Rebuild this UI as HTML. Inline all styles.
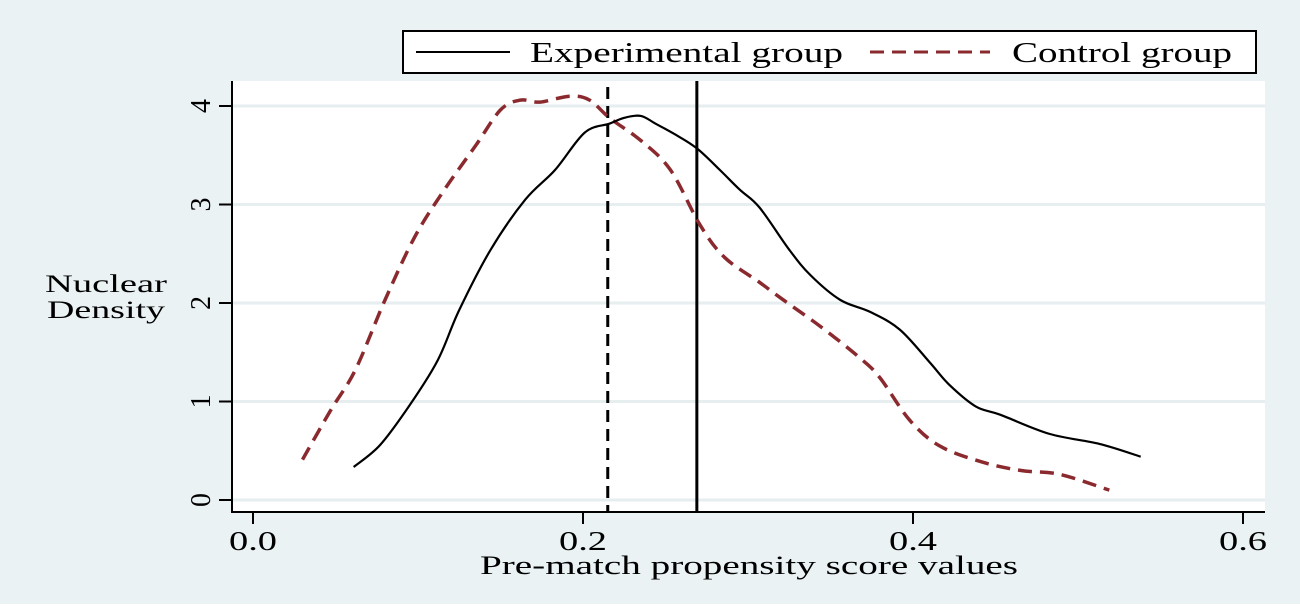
<!DOCTYPE html>
<html><head><meta charset="utf-8"><style>
html,body{margin:0;padding:0;background:#fff}
svg{display:block;font-family:"Liberation Serif",serif}
</style></head><body>
<svg width="1300" height="606">
<rect x="0" y="0" width="1300" height="604" fill="#eaf2f3"/>
<rect x="232" y="81" width="1033" height="431" fill="#fff"/>
<g id="grid"></g>
<g id="axes"></g>
<g id="series"></g>
<g>
<rect x="403" y="31" width="853" height="42" fill="#fff" stroke="#000" stroke-width="2"/>
<line x1="416" y1="52" x2="510" y2="52" stroke="#000" stroke-width="2"/>
<text x="530" y="62" font-size="28" textLength="313" lengthAdjust="spacingAndGlyphs">Experimental group</text>
<line x1="870" y1="52" x2="990" y2="52" stroke="#8b2a2e" stroke-width="3" stroke-dasharray="14,8"/>
<text x="1012" y="62" font-size="28" textLength="220" lengthAdjust="spacingAndGlyphs">Control group</text>
</g>
<text x="45" y="292" font-size="25" textLength="122" lengthAdjust="spacingAndGlyphs">Nuclear</text>
<text x="47" y="318" font-size="25" textLength="118" lengthAdjust="spacingAndGlyphs">Density</text>
<text x="480" y="574" font-size="26" textLength="538" lengthAdjust="spacingAndGlyphs">Pre-match propensity score values</text>
</svg>
<script>
const xTicks=[0,0.2,0.4,0.6];
const xTickLabels=["0.0","0.2","0.4","0.6"];
const yTicks=[0,1,2,3,4];
const expX=[0.061,0.077,0.095,0.112,0.125,0.144,0.165,0.183,0.201,0.216,0.225,0.235,0.244,0.256,0.269,0.283,0.295,0.307,0.325,0.338,0.356,0.374,0.392,0.410,0.422,0.438,0.453,0.483,0.513,0.538];
const expY=[0.335,0.558,0.964,1.42,1.93,2.54,3.05,3.35,3.73,3.82,3.88,3.90,3.82,3.71,3.57,3.35,3.15,2.97,2.54,2.28,2.03,1.91,1.73,1.40,1.17,0.95,0.865,0.67,0.57,0.44];
const ctlX=[0.030,0.047,0.062,0.080,0.098,0.116,0.135,0.150,0.162,0.174,0.192,0.204,0.216,0.235,0.253,0.271,0.286,0.307,0.319,0.344,0.368,0.380,0.398,0.416,0.441,0.465,0.489,0.519];
const ctlY=[0.41,0.91,1.32,2.03,2.67,3.15,3.60,3.96,4.06,4.04,4.10,4.06,3.88,3.65,3.35,2.79,2.46,2.21,2.06,1.76,1.44,1.24,0.81,0.55,0.39,0.30,0.26,0.10];
const meanLines=[0.215,0.269];
const NS="http://www.w3.org/2000/svg";
const sx=v=>253+v*1650;
const sy=v=>500-v*98.5;
function mk(tag,attrs,parent){const e=document.createElementNS(NS,tag);for(const k in attrs)e.setAttribute(k,attrs[k]);document.getElementById(parent).appendChild(e);return e;}
yTicks.forEach(t=>{
  const g=mk('line',{x1:232,x2:1265,y1:sy(t),y2:sy(t),stroke:'#e6eef0','stroke-width':3},'grid');
  
  
  const tk=mk('line',{x1:219,x2:232,y1:sy(t),y2:sy(t),stroke:'#000','stroke-width':2},'axes');
  
  
  const tl=mk('text',{x:0,y:0,'font-size':28,'text-anchor':'middle',transform:`translate(210,${sy(t)}) rotate(-90)`},'axes');
  tl.textContent=String(t);
  
  
});
xTicks.forEach((t,i)=>{
  const tk=mk('line',{x1:sx(t),x2:sx(t),y1:512,y2:524,stroke:'#000','stroke-width':2},'axes');
  
  
  const tl=mk('text',{x:sx(t)-24,y:550,'font-size':27,textLength:48,lengthAdjust:'spacingAndGlyphs'},'axes');
  tl.textContent=xTickLabels[i];
  
  
});
const ya=mk('line',{x1:232,x2:232,y1:81,y2:513,stroke:'#000','stroke-width':2},'axes');


const xa=mk('line',{x1:231,x2:1265,y1:512,y2:512,stroke:'#000','stroke-width':2},'axes');


const m1=mk('line',{x1:sx(meanLines[0]),x2:sx(meanLines[0]),y1:87,y2:512,stroke:'#000','stroke-width':3,'stroke-dasharray':'12,7'},'series');


const m2=mk('line',{x1:sx(meanLines[1]),x2:sx(meanLines[1]),y1:81,y2:512,stroke:'#000','stroke-width':3},'series');


function smooth(X,Y){
  const P=X.map((x,i)=>[sx(x),sy(Y[i])]);
  let d='M'+P[0][0]+','+P[0][1];
  for(let i=0;i<P.length-1;i++){
    const p0=P[Math.max(0,i-1)],p1=P[i],p2=P[i+1],p3=P[Math.min(P.length-1,i+2)];
    const c1=[p1[0]+(p2[0]-p0[0])/6,p1[1]+(p2[1]-p0[1])/6];
    const c2=[p2[0]-(p3[0]-p1[0])/6,p2[1]-(p3[1]-p1[1])/6];
    d+=` C${c1[0].toFixed(1)},${c1[1].toFixed(1)} ${c2[0].toFixed(1)},${c2[1].toFixed(1)} ${p2[0].toFixed(1)},${p2[1].toFixed(1)}`;
  }
  return d;
}
const c=mk('path',{d:smooth(ctlX,ctlY),fill:'none',stroke:'#8b2a2e','stroke-width':3.5,'stroke-dasharray':'14,8'},'series');


const e=mk('path',{d:smooth(expX,expY),fill:'none',stroke:'#000','stroke-width':2.2},'series');


</script>
</body></html>
